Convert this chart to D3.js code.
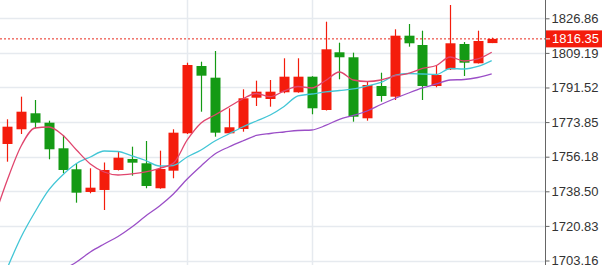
<!DOCTYPE html>
<html>
<head>
<meta charset="utf-8">
<script src="https://cdn.jsdelivr.net/npm/d3@7"></script>
<style>
  body { margin: 0; background: #fff; }
  svg { display: block; }
  .tick text { font-family: "Liberation Sans", Arial, sans-serif; font-size: 13px; fill: #333; }
</style>
</head>
<body>
<div id="chart"></div>
<script>
// candle data, oldest first
const opens  = [1762.67, 1770.18, 1778.35, 1773.55, 1760.47, 1749.75, 1738.16, 1739.18, 1749.39, 1755.01,
                1752.81, 1740.05, 1749.03, 1768.13, 1802.50, 1796.53, 1768.13, 1770.33, 1786.31, 1785.65,
                1789.07, 1789.07, 1797.04, 1780.03, 1809.50, 1806.95, 1775.79, 1792.29, 1786.83, 1817.98,
                1813.23, 1792.29, 1800.82, 1813.74, 1803.88, 1814.20];
const highs  = [1775.28, 1786.83, 1785.14, 1774.57, 1767.27, 1752.81, 1750.26, 1753.22, 1758.74, 1761.29,
                1764.20, 1759.25, 1770.18, 1804.19, 1804.70, 1810.16, 1780.90, 1790.60, 1795.00, 1795.35,
                1806.44, 1806.44, 1797.30, 1825.13, 1814.40, 1809.30, 1794.49, 1799.08, 1821.25, 1823.95,
                1820.53, 1803.01, 1833.66, 1814.76, 1820.53, 1816.96];
const lows   = [1753.63, 1767.78, 1770.69, 1754.86, 1747.71, 1732.69, 1737.49, 1728.96, 1749.14, 1746.48,
                1740.05, 1739.84, 1745.15, 1767.78, 1779.16, 1766.40, 1767.93, 1768.95, 1782.08, 1781.72,
                1788.56, 1788.87, 1777.84, 1779.78, 1795.71, 1774.06, 1774.57, 1784.27, 1785.14, 1812.36,
                1785.14, 1791.63, 1800.46, 1797.40, 1803.78, 1814.20];
const closes = [1771.50, 1779.16, 1773.55, 1759.96, 1749.39, 1737.80, 1740.35, 1749.39, 1755.67, 1753.12,
                1741.22, 1749.90, 1768.44, 1803.01, 1797.55, 1768.44, 1771.20, 1786.01, 1789.38, 1789.38,
                1797.04, 1797.04, 1780.90, 1811.03, 1806.95, 1776.61, 1792.80, 1787.18, 1817.98, 1814.10,
                1792.29, 1797.91, 1814.10, 1804.19, 1815.27, 1816.35];

// moving averages; first entry belongs to the bar just left of the window
const maFast = [1723.86, 1744.28, 1761.65, 1770.84, 1771.35, 1767.27, 1759.60, 1752.46, 1748.37, 1746.84,
                1747.35, 1748.37, 1750.26, 1752.81, 1764.71, 1773.39, 1777.48, 1781.57, 1785.65, 1788.46,
                1786.83, 1789.74, 1792.03, 1791.27, 1795.10, 1799.44, 1795.35, 1794.59, 1795.35, 1797.40,
                1798.67, 1801.23, 1802.76, 1807.10, 1805.06, 1806.08, 1809.50];
const maMid  = [null, 1699.34, 1715.17, 1727.94, 1739.18, 1746.84, 1752.71, 1756.03, 1759.09, 1758.84,
                1756.54, 1754.24, 1751.43, 1751.69, 1756.03, 1759.60, 1764.20, 1767.78, 1771.35, 1774.42,
                1777.48, 1781.82, 1787.18, 1788.20, 1789.23, 1789.99, 1790.76, 1792.29, 1794.08, 1797.65,
                1798.67, 1798.42, 1798.16, 1801.23, 1800.97, 1802.25, 1805.21];
const maSlow = [null, null, null, null, null, 1698.32, 1702.41, 1707.51, 1711.60, 1715.43,
                1720.28, 1725.90, 1731.01, 1737.13, 1744.79, 1751.43, 1757.56, 1761.14, 1764.20, 1767.01,
                1768.03, 1768.80, 1769.56, 1769.82, 1772.12, 1775.28, 1777.22, 1779.52, 1782.84, 1785.91,
                1788.71, 1791.27, 1793.31, 1795.35, 1795.61, 1796.63, 1798.42];

const yTicks = [1703.16, 1720.83, 1738.50, 1756.18, 1773.85, 1791.52, 1809.19, 1826.86];
const sessionBreaks = [13, 22];   // bar indexes with a vertical grid line
const lastPrice = 1816.35;

const width = 602, height = 265;
const plotRight = 545;

const svg = d3.select("#chart").append("svg")
    .attr("width", width)
    .attr("height", height);

const x = d3.scaleLinear()
    .domain([0, closes.length - 1])
    .range([7.3, 491.7]);

const y = d3.scaleLinear()
    .domain([1703.16, 1826.86])
    .range([260.5, 18.3]);

svg.append("defs").append("clipPath")
    .attr("id", "plot-clip")
    .append("rect")
    .attr("width", plotRight)
    .attr("height", height);

const plot = svg.append("g").attr("clip-path", "url(#plot-clip)");

// grid
plot.selectAll(".hgrid")
    .data(yTicks)
    .enter().append("line")
    .attr("x1", 0).attr("x2", plotRight)
    .attr("y1", d => Math.round(y(d)) + 0.5)
    .attr("y2", d => Math.round(y(d)) + 0.5)
    .attr("stroke", "#e6eaef")
    .attr("stroke-width", 1.5);

plot.selectAll(".vgrid")
    .data(sessionBreaks)
    .enter().append("line")
    .attr("x1", d => Math.round(x(d)) + 0.5)
    .attr("x2", d => Math.round(x(d)) + 0.5)
    .attr("y1", 0).attr("y2", height)
    .attr("stroke", "#e6eaef")
    .attr("stroke-width", 1.5);

// last price line
plot.append("line")
    .attr("x1", 0).attr("x2", plotRight)
    .attr("y1", y(lastPrice)).attr("y2", y(lastPrice))
    .attr("stroke", "#e8281c")
    .attr("stroke-width", 1)
    .attr("stroke-dasharray", "2,2");

// candles
const upColor = "#f41c0c", downColor = "#149a14";
const candles = plot.selectAll(".candle")
    .data(closes.map((c, i) => ({ i, o: opens[i], h: highs[i], l: lows[i], c })))
    .enter().append("g")
    .attr("class", "candle");

candles.append("line")
    .attr("x1", d => Math.round(x(d.i)) + 0.5)
    .attr("x2", d => Math.round(x(d.i)) + 0.5)
    .attr("y1", d => y(d.h))
    .attr("y2", d => y(d.l))
    .attr("stroke", d => d.c >= d.o ? upColor : downColor)
    .attr("stroke-width", 1.2);

candles.append("rect")
    .attr("x", d => Math.round(x(d.i)) - 4.5)
    .attr("width", 10)
    .attr("y", d => y(Math.max(d.o, d.c)))
    .attr("height", d => Math.max(1, Math.abs(y(d.o) - y(d.c))))
    .attr("fill", d => d.c >= d.o ? upColor : downColor);

// moving averages
const maLine = d3.line()
    .defined(d => d != null)
    .x((d, i) => x(i - 1))
    .y(d => y(d))
    .curve(d3.curveMonotoneX);

[[maSlow, "#9b4fc7"], [maMid, "#43c6d6"], [maFast, "#e0466e"]].forEach(([series, color]) => {
    plot.append("path")
        .datum(series)
        .attr("d", maLine)
        .attr("fill", "none")
        .attr("stroke", color)
        .attr("stroke-width", 1.3);
});

// price axis
const axis = svg.append("g")
    .attr("transform", `translate(${plotRight + 0.5},0)`)
    .call(d3.axisRight(y).tickValues(yTicks).tickSize(4).tickPadding(2).tickFormat(d3.format(".2f")));
axis.select(".domain").remove();
axis.selectAll(".tick line").attr("stroke", "#666");

svg.append("line")
    .attr("x1", plotRight + 0.5).attr("x2", plotRight + 0.5)
    .attr("y1", 0).attr("y2", height)
    .attr("stroke", "#666");

// last price tag
const tag = svg.append("g")
    .attr("transform", `translate(${plotRight + 1},${y(lastPrice)})`);
tag.append("rect")
    .attr("x", 0).attr("y", -8.5)
    .attr("width", width - plotRight - 1)
    .attr("height", 17)
    .attr("fill", "#f41c0c");
tag.append("line")
    .attr("x1", 0).attr("x2", 4)
    .attr("stroke", "#fff");
tag.append("text")
    .attr("x", 6)
    .attr("dy", "0.35em")
    .attr("fill", "#fff")
    .style("font-family", "'Liberation Sans', Arial, sans-serif")
    .style("font-size", "13px")
    .text(d3.format(".2f")(lastPrice));
</script>
</body>
</html>
